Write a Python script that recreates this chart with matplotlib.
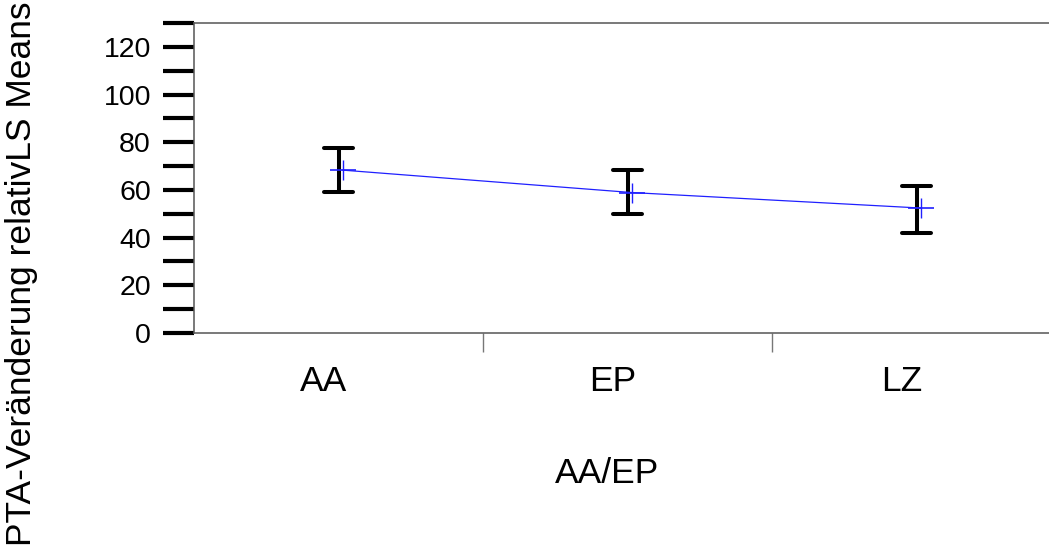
import numpy as np
import matplotlib.pyplot as plt
from matplotlib.ticker import MultipleLocator, FixedLocator
import matplotlib.transforms as mtransforms

plt.rcParams['font.family'] = ['Liberation Sans', 'DejaVu Sans']

# LS means with lower / upper confidence limits per group
groups = ['AA', 'EP', 'LZ']
means = [68.3, 58.9, 52.4]
lower = [59.0, 50.1, 42.1]
upper = [77.4, 68.3, 61.7]

W, H = 1049, 548
FS = 25.5
fig = plt.figure(figsize=(W / 100, H / 100), dpi=100)
ax = fig.add_axes([194 / W, 1 - 333 / H, (1061 - 194) / W, (333 - 23) / H])

x = np.arange(len(groups)) + 0.5

# confidence intervals: thick black bars with round-ended caps
ax.vlines(x, lower, upper, color='black', lw=2.9, capstyle='butt', zorder=2)
ax.hlines(lower, x - 0.05, x + 0.05, color='black', lw=2.9, capstyle='round', zorder=2)
ax.hlines(upper, x - 0.05, x + 0.05, color='black', lw=2.9, capstyle='round', zorder=2)

# means joined by a thin blue line
xm = x + 0.015
ax.plot(xm, means, color='#2020ff', lw=0.9, zorder=3)
ax.plot(xm, means, ls='none', marker='_', ms=19, mew=1.2, color='#2020ff', zorder=3)
ax.plot(xm, means, ls='none', marker='|', ms=14, mew=1.0, color='#2020ff', zorder=3)

ax.set_xlim(0, 3)
ax.set_ylim(0, 130)

# y axis: labels every 20, long heavy ticks every 10
ax.yaxis.set_major_locator(MultipleLocator(20))
ax.yaxis.set_minor_locator(MultipleLocator(10))
ax.yaxis.set_major_formatter(lambda v, p: '%d' % v if v <= 120 else '')
ax.tick_params(axis='y', which='both', direction='out', length=22, width=3,
               color='black', labelsize=20.5, pad=9)

# x axis: group labels centred in each bin, thin ticks at bin edges
ax.xaxis.set_major_locator(FixedLocator(x))
ax.set_xticklabels(groups)
ax.xaxis.set_minor_locator(FixedLocator([1, 2]))
ax.tick_params(axis='x', which='major', length=0, labelsize=FS, pad=23)
ax.tick_params(axis='x', which='minor', length=14, width=1, color='#777777')
shift = mtransforms.ScaledTranslation(-15 / 100, 0, fig.dpi_scale_trans)
for lab in ax.get_xticklabels():
    lab.set_transform(lab.get_transform() + shift)

for side in ['left', 'top', 'bottom']:
    ax.spines[side].set_color('#555555')
    ax.spines[side].set_linewidth(1.1)
ax.spines['right'].set_visible(False)

ax.set_xlabel('AA/EP', fontsize=FS)
ax.xaxis.set_label_coords((607 - 194) / (1061 - 194), -(457 - 333) / (333 - 23))
fig.text(22 / W, 0.5, 'PTA-Veränderung relativLS Means', rotation=90,
         ha='center', va='center', fontsize=FS)

fig.savefig('out.png', dpi=100)
